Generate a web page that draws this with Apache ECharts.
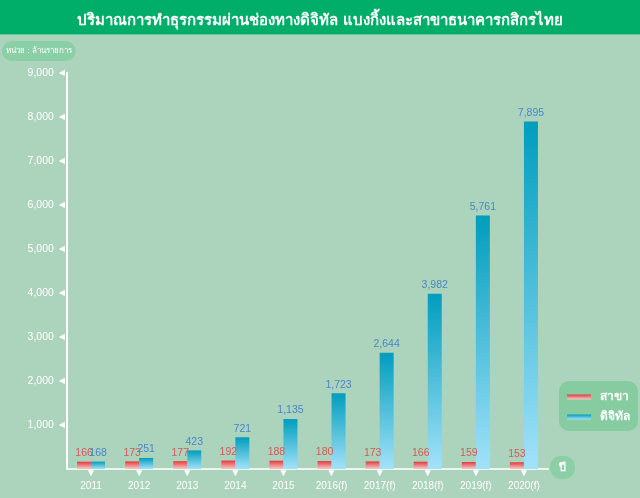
<!DOCTYPE html>
<html>
<head>
<meta charset="utf-8">
<script src="https://cdn.jsdelivr.net/npm/echarts@6/dist/echarts.min.js"></script>
<style>
	html, body { margin: 0; padding: 0; background: #acd3bb; }
	#chart { width: 640px; height: 498px; }
</style>
</head>
<body>
<div id="chart"></div>
<script>
// data
const years = ['2011', '2012', '2013', '2014', '2015', '2016(f)', '2017(f)', '2018(f)', '2019(f)', '2020(f)'];
const branch = [166, 173, 177, 192, 188, 180, 173, 166, 159, 153];
const digital = [168, 251, 423, 721, 1135, 1723, 2644, 3982, 5761, 7895];

const fontFamily = 'Liberation Sans, DejaVu Sans, Noto Sans, sans-serif';
const fmt = (v) => Number(v).toLocaleString('en-US');

const redGrad = new echarts.graphic.LinearGradient(0, 0, 0, 1, [
	{ offset: 0, color: '#e23a3a' },
	{ offset: 1, color: '#f9c9c9' },
]);
const blueGrad = new echarts.graphic.LinearGradient(0, 0, 0, 1, [
	{ offset: 0, color: '#009dbd' },
	{ offset: 1, color: '#a2e2fa' },
]);

const chart = echarts.init(document.getElementById('chart'));
chart.setOption({
	backgroundColor: '#acd3bb',
	textStyle: { fontFamily: fontFamily },
	graphic: [
		{ type: 'rect', left: 0, top: 0, shape: { width: 640, height: 34 }, style: { fill: '#00ae69' }, z: 0 },
		{ type: 'rect', left: 0, top: 34, shape: { width: 640, height: 1 }, style: { fill: '#5fc994' }, z: 0 },
	],
	title: [
		{
			text: 'ปริมาณการทำธุรกรรมผ่านช่องทางดิจิทัล แบงกิ้งและสาขาธนาคารกสิกรไทย',
			left: 'center',
			top: 8,
			textStyle: { color: '#ffffff', fontSize: 15, fontWeight: 'bold' },
		},
		{
			text: 'หน่วย : ล้านรายการ',
			left: 2,
			top: 41,
			padding: [6, 4, 6, 4],
			backgroundColor: '#8bcfa6',
			borderRadius: 11,
			textStyle: { color: '#ffffff', fontSize: 8, fontWeight: 'normal' },
		},
		{
			text: 'ปี',
			left: 550,
			top: 456,
			padding: [6, 9, 6, 9],
			backgroundColor: '#8bcfa6',
			borderRadius: 11,
			textStyle: { color: '#ffffff', fontSize: 11, fontWeight: 'bold' },
		},
	],
	legend: {
		orient: 'vertical',
		right: 2,
		top: 381,
		padding: [10, 8, 8, 8],
		itemGap: 8,
		itemWidth: 24,
		itemHeight: 5,
		backgroundColor: '#86cca0',
		borderRadius: 10,
		textStyle: { color: '#ffffff', fontSize: 12, fontWeight: 'bold', padding: [0, 0, 0, 4] },
		data: [
			{ name: 'สาขา', icon: 'rect' },
			{ name: 'ดิจิทัล', icon: 'rect' },
		],
	},
	grid: { left: 67, right: 92, top: 73, bottom: 29, containLabel: false },
	xAxis: {
		type: 'category',
		data: years,
		axisLine: { lineStyle: { color: '#eef6f1', width: 2 } },
		axisTick: { show: false },
		axisLabel: {
			interval: 0,
			margin: 0,
			formatter: (v) => '{t|▼}\n{v|' + v + '}',
			rich: {
				t: { color: '#ffffff', fontSize: 10, height: 9, align: 'center' },
				v: { color: '#ffffff', fontSize: 10, height: 14, padding: [1, 0, 0, 0] },
			},
		},
	},
	yAxis: {
		type: 'value',
		min: 0,
		max: 9000,
		interval: 1000,
		axisLine: { show: true, lineStyle: { color: '#ffffff', width: 2 } },
		axisTick: { show: false },
		splitLine: { show: false },
		axisLabel: {
			margin: 2,
			formatter: (v) => (v === 0 ? '' : '{v|' + fmt(v) + '}{t|◀}'),
			rich: {
				v: { color: '#ffffff', fontSize: 10.5, padding: [0, 5, 0, 0] },
				t: { color: '#ffffff', fontSize: 8 },
			},
		},
	},
	series: [
		{
			name: 'สาขา',
			type: 'bar',
			data: branch,
			barWidth: 14,
			barGap: '0%',
			itemStyle: { color: redGrad },
			label: {
				show: true,
				position: 'top',
				distance: 3,
				color: '#d45a5a',
				fontSize: 10.5,
				formatter: (p) => fmt(p.value),
			},
		},
		{
			name: 'ดิจิทัล',
			type: 'bar',
			data: digital,
			barWidth: 14,
			itemStyle: { color: blueGrad },
			label: {
				show: true,
				position: 'top',
				distance: 3,
				color: '#4a87c8',
				fontSize: 10.5,
				formatter: (p) => fmt(p.value),
			},
		},
	],
});
</script>
</body>
</html>
